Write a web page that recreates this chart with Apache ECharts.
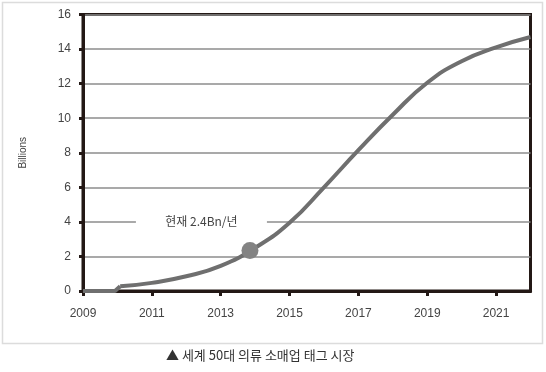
<!DOCTYPE html>
<html>
<head>
<meta charset="utf-8">
<script src="https://cdn.jsdelivr.net/npm/echarts@6/dist/echarts.min.js"></script>
<style>html,body{margin:0;padding:0;background:#fff}#c{width:546px;height:372px}</style>
</head>
<body>
<div id="c"></div>
<script>
const baseYear = 2009;
const endYear = 2022;
// flat start and step (straight segments)
const stepYears  = [2009, 2009.93, 2010.08];
const stepValues = [0,    0,       0.27];
// growth curve (smooth)
const curveYears  = [2010.08, 2011, 2012, 2013, 2014, 2015, 2016, 2017, 2018, 2019, 2020, 2021, 2022];
const curveValues = [0.27,    0.47, 0.85, 1.45, 2.5,  3.95, 6.0,  8.15, 10.2, 12.05, 13.3, 14.1, 14.7];
const currentYear = [2013.85];
const currentValue = [2.35];
const annotationText = '현재 2.4Bn/년';
const annotationAt = [2012.44, 4];
const yTicks = [0, 2, 4, 6, 8, 10, 12, 14, 16];
const xTickYears = [2009, 2011, 2013, 2015, 2017, 2019, 2021];
const titleText = '▲ 세계 50대 의류 소매업 태그 시장';
const yName = 'Billions';

const chart = echarts.init(document.getElementById('c'), null, {renderer: 'canvas'});
const toPts = (xs, ys) => xs.map((y, i) => [y - baseYear, ys[i]]);
const fontNum = 'Liberation Sans, Arial, sans-serif';
const fontKr = '"Noto Sans CJK KR", sans-serif';
const lineStyle = {color: '#6f6f6f', width: 4};

chart.setOption({
  animation: false,
  backgroundColor: '#fff',
  grid: {left: 83, right: 15.5, top: 14.5, bottom: 81, show: true, borderColor: '#231815', borderWidth: 3, backgroundColor: 'transparent'},
  graphic: [
    {type: 'rect', shape: {x: 2.5, y: 2.5, width: 540, height: 341}, style: {fill: 'none', stroke: '#dcdcdc', lineWidth: 1.5}, z: -1},
    {type: 'text', left: 166, top: 349, style: {text: titleText, font: '13px ' + fontKr, fill: '#333'}}
  ],
  xAxis: {
    type: 'value', min: 0, max: endYear - baseYear, interval: 2,
    axisLine: {show: true, lineStyle: {color: '#231815', width: 3}},
    axisTick: {show: true, length: 5, lineStyle: {color: '#231815', width: 3}},
    axisLabel: {margin: 17, color: '#444', fontSize: 12, fontFamily: fontNum, showMaxLabel: false,
      formatter: v => xTickYears.indexOf(v + baseYear) >= 0 ? String(v + baseYear) : ''},
    splitLine: {show: false}
  },
  yAxis: {
    type: 'value', min: yTicks[0], max: yTicks[yTicks.length - 1], interval: 2,
    name: yName, nameLocation: 'middle', nameRotate: 90, nameGap: 55,
    nameTextStyle: {color: '#444', fontSize: 10, fontFamily: fontNum},
    axisLine: {show: true, lineStyle: {color: '#231815', width: 3}},
    axisTick: {show: true, length: 4, lineStyle: {color: '#231815', width: 3}},
    axisLabel: {margin: 12, color: '#444', fontSize: 12, fontFamily: fontNum},
    splitLine: {show: true, lineStyle: {color: '#8c8c8c', width: 1.5}}
  },
  series: [
    {type: 'line', data: toPts(stepYears, stepValues), smooth: false, showSymbol: false, lineStyle: lineStyle, z: 3},
    {type: 'line', data: toPts(curveYears, curveValues), smooth: 0.5, showSymbol: false, lineStyle: lineStyle, z: 3},
    {
      type: 'scatter', data: toPts(currentYear, currentValue), symbolSize: 17, itemStyle: {color: '#838383', opacity: 1}, z: 4,
      markPoint: {
        symbol: 'rect', symbolSize: 0,
        data: [{coord: [annotationAt[0] - baseYear, annotationAt[1]]}],
        label: {show: true, position: 'inside', formatter: annotationText, color: '#444', fontSize: 12,
          fontFamily: fontKr, backgroundColor: '#fff', width: 131, height: 14, align: 'center', lineHeight: 14}
      }
    }
  ]
});
</script>
</body>
</html>
